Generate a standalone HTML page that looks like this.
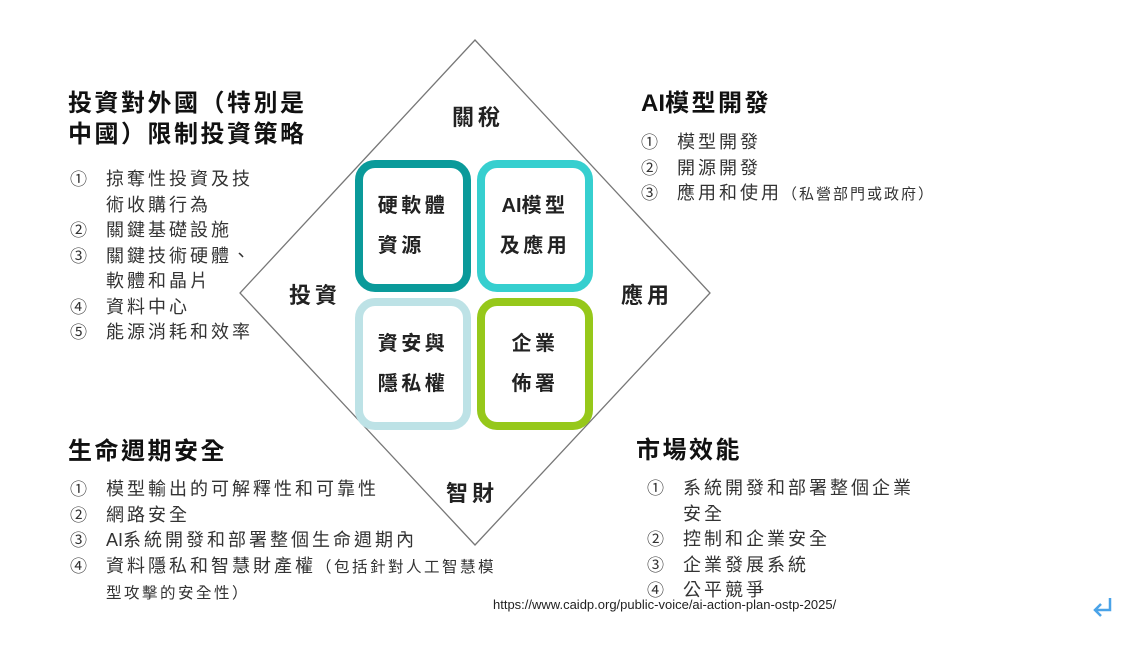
<!DOCTYPE html>
<html><head><meta charset="utf-8"><style>
body{margin:0;width:1136px;height:645px;background:#fff;position:relative;overflow:hidden;font-family:"Liberation Sans","Noto Sans CJK TC",sans-serif;color:#222}
.a{position:absolute;white-space:nowrap}
.h{font-size:24px;font-weight:bold;line-height:31px;color:#111;letter-spacing:2.5px}
.l{font-size:18px;line-height:25.5px;color:#333;letter-spacing:3px}
.n{position:absolute;left:0;font-size:17px}
.t{display:block;padding-left:36px}
.box{position:absolute;width:100px;height:116px;border:8px solid;border-radius:20px;display:flex;flex-direction:column;align-items:center;justify-content:center;font-size:20px;font-weight:bold;line-height:40px;color:#222;letter-spacing:3.5px}
.c{font-size:22px;font-weight:bold;color:#222;letter-spacing:4px}
.s{font-size:15px;letter-spacing:2px}
.ai{letter-spacing:0}
</style></head><body>
<svg class="a" style="left:0;top:0" width="1136" height="645"><polygon points="475,40 710,293 475,545 240,293" fill="none" stroke="#777" stroke-width="1.3"/>
<path d="M1110 598 V610 H1096 M1101 604 L1095 610 L1101 616" fill="none" stroke="#4aa3e8" stroke-width="2.5"/></svg>

<div class="box" style="left:355px;top:160px;border-color:#0a9a9a">硬軟體<br>資源</div>
<div class="box" style="left:477px;top:160px;border-color:#36cfcf"><span><span class="ai">AI</span>模型</span><span>及應用</span></div>
<div class="box" style="left:355px;top:298px;border-color:#bde2e6">資安與<br>隱私權</div>
<div class="box" style="left:477px;top:298px;border-color:#96c81a">企業<br>佈署</div>

<div class="a c" style="left:452px;top:100px">關稅</div>
<div class="a c" style="left:289px;top:278px">投資</div>
<div class="a c" style="left:621px;top:278px">應用</div>
<div class="a c" style="left:446px;top:476px">智財</div>

<div class="a h" style="left:68px;top:88px">投資對外國（特別是<br>中國）限制投資策略</div>
<div class="a l" style="left:70px;top:167px">
<span class="n">①</span><span class="t">掠奪性投資及技<br>術收購行為</span>
<span class="n">②</span><span class="t">關鍵基礎設施</span>
<span class="n">③</span><span class="t">關鍵技術硬體、<br>軟體和晶片</span>
<span class="n">④</span><span class="t">資料中心</span>
<span class="n">⑤</span><span class="t">能源消耗和效率</span>
</div>

<div class="a h" style="left:641px;top:88px"><span class="ai">AI</span>模型開發</div>
<div class="a l" style="left:641px;top:130px">
<span class="n">①</span><span class="t">模型開發</span>
<span class="n">②</span><span class="t">開源開發</span>
<span class="n">③</span><span class="t">應用和使用<span class="s">（私營部門或政府）</span></span>
</div>

<div class="a h" style="left:68px;top:436px">生命週期安全</div>
<div class="a l" style="left:70px;top:477px">
<span class="n">①</span><span class="t">模型輸出的可解釋性和可靠性</span>
<span class="n">②</span><span class="t">網路安全</span>
<span class="n">③</span><span class="t"><span class="ai">AI</span>系統開發和部署整個生命週期內</span>
<span class="n">④</span><span class="t">資料隱私和智慧財產權<span style="font-size:15.5px;letter-spacing:2.5px">（包括針對人工智慧模<br>型攻擊的安全性）</span></span>
</div>

<div class="a h" style="left:636px;top:435px">市場效能</div>
<div class="a l" style="left:647px;top:476px">
<span class="n">①</span><span class="t">系統開發和部署整個企業<br>安全</span>
<span class="n">②</span><span class="t">控制和企業安全</span>
<span class="n">③</span><span class="t">企業發展系統</span>
<span class="n">④</span><span class="t">公平競爭</span>
</div>

<div class="a" style="left:493px;top:597px;font-size:13px;color:#222">https://www.caidp.org/public-voice/ai-action-plan-ostp-2025/</div>
</body></html>
